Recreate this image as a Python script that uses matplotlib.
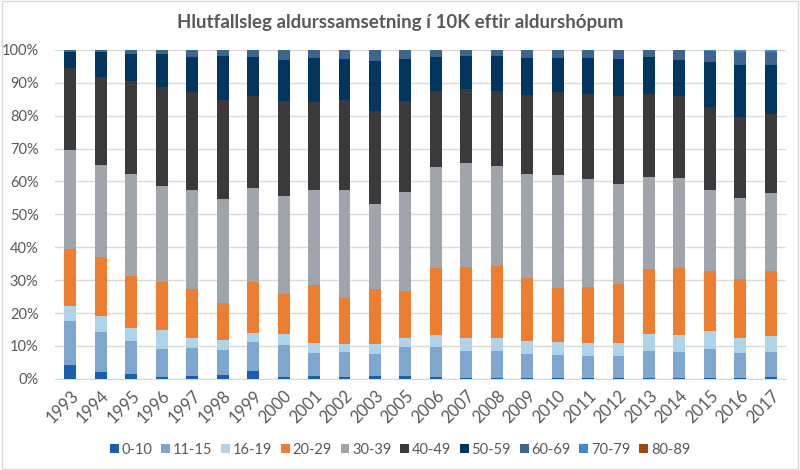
import numpy as np
import matplotlib
matplotlib.use("Agg")
import matplotlib.pyplot as plt
from matplotlib.patches import Rectangle
from matplotlib.ticker import PercentFormatter

plt.rcParams['font.family'] = ['Lato', 'DejaVu Sans']

years = ['1993', '1994', '1995', '1996', '1997', '1998', '1999', '2000', '2001', '2002',
         '2003', '2005', '2006', '2007', '2008', '2009', '2010', '2011', '2012', '2013',
         '2014', '2015', '2016', '2017']
groups = ['0-10', '11-15', '16-19', '20-29', '30-39', '40-49', '50-59', '60-69', '70-79', '80-89']
colors = ['#1A5FAB', '#7FA6CF', '#AFD3E8', '#ED7D31', '#9FA5AA', '#3A3A3C',
          '#03365F', '#3C6690', '#3B8BC6', '#9E480E']

# percent shares per age group
g0_10 = [4.1, 2.0, 1.6, 0.7, 1.0, 1.3, 2.3, 0.7, 1.0, 0.7, 1.0, 0.8, 0.6, 0.4, 0.3, 0.2,
         0.2, 0.3, 0.4, 0.4, 0.2, 0.3, 0.3, 0.7]
g11_15 = [13.4, 12.1, 9.8, 8.4, 8.4, 7.4, 8.9, 9.6, 6.8, 7.4, 6.5, 8.9, 9.0, 8.0, 8.3, 7.4,
          6.9, 6.6, 6.6, 8.0, 8.0, 8.8, 7.7, 7.5]
g16_19 = [4.7, 4.9, 4.0, 5.7, 3.1, 3.0, 2.8, 3.3, 3.2, 2.4, 3.1, 2.7, 3.6, 4.0, 3.9, 3.9,
          4.0, 4.0, 3.8, 5.2, 5.1, 5.3, 4.3, 4.7]
g20_29 = [17.4, 17.9, 15.8, 14.6, 14.8, 11.2, 15.3, 12.3, 17.5, 14.1, 16.6, 14.4, 20.5, 21.5,
          21.9, 19.2, 16.5, 17.0, 17.9, 19.8, 20.4, 18.5, 18.0, 19.8]
g30_39 = [30.1, 28.0, 31.0, 29.2, 30.0, 31.9, 28.6, 29.8, 29.0, 32.7, 25.8, 30.0, 30.7, 31.7,
          30.4, 31.5, 34.2, 32.8, 30.4, 27.8, 27.3, 24.4, 24.7, 23.8]
g40_49 = [24.8, 26.9, 28.2, 30.1, 29.9, 29.9, 28.2, 28.6, 26.7, 27.3, 28.4, 27.6, 23.1, 22.6,
          22.7, 24.1, 25.3, 26.0, 26.8, 25.3, 24.9, 25.2, 24.6, 23.9]
g50_59 = [4.9, 7.4, 8.4, 9.9, 10.7, 13.5, 11.8, 12.5, 13.2, 12.7, 15.3, 12.8, 10.3, 10.0,
          10.6, 11.1, 10.3, 10.9, 11.3, 11.3, 11.0, 13.9, 15.7, 14.9]
g60_69 = [0.6, 0.8, 1.2, 1.4, 2.1, 1.8, 2.1, 3.2, 2.6, 2.7, 3.3, 2.8, 2.0, 1.8, 1.9, 2.6,
          2.6, 2.4, 2.8, 2.2, 3.1, 3.2, 4.1, 4.1]
g70_79 = [0, 0, 0, 0, 0, 0, 0, 0, 0, 0, 0, 0, 0.1, 0, 0, 0, 0, 0, 0, 0, 0, 0.4, 0.6, 0.6]
g80_89 = [0, 0, 0, 0, 0, 0, 0, 0, 0, 0, 0, 0, 0.1, 0, 0, 0, 0, 0, 0, 0, 0, 0, 0, 0]

series = [g0_10, g11_15, g16_19, g20_29, g30_39, g40_49, g50_59, g60_69, g70_79, g80_89]
data = np.array(series, dtype=float)
data = data / data.sum(axis=0) * 100

fig = plt.figure(figsize=(8, 4.7), dpi=100)
ax = fig.add_axes([0.069, 0.194, 0.9135, 0.70])

x = np.arange(len(years))
bottom = np.zeros(len(years))
for name, vals, c in zip(groups, data, colors):
    ax.bar(x, vals, 0.39, bottom=bottom, color=c, label=name, zorder=3)
    bottom += vals

ax.set_xlim(-0.5, len(years) - 0.5)
ax.set_ylim(0, 100)
ax.set_yticks(np.arange(0, 101, 10))
ax.yaxis.set_major_formatter(PercentFormatter(decimals=0))
ax.set_xticks(x)
ax.set_xticklabels(years, rotation=45, ha='right', rotation_mode='anchor')
ax.tick_params(axis='x', labelsize=12, colors='#595959', length=0, pad=6)
ax.tick_params(axis='y', labelsize=10.5, colors='#595959', length=0, pad=12)
ax.grid(axis='y', color='#D9D9D9', linewidth=1, zorder=0)
for s in ['top', 'right', 'left']:
    ax.spines[s].set_visible(False)
ax.spines['bottom'].set_color('#D9D9D9')

fig.text(0.5, 0.953, 'Hlutfallsleg aldurssamsetning í 10K eftir aldurshópum',
         ha='center', va='center', fontsize=13.5, fontweight='bold', color='#595959')

ax.legend(loc='center', bbox_to_anchor=(0.5, 0.043), bbox_transform=fig.transFigure,
          ncol=10, frameon=False, fontsize=10.5, handlelength=0.6, handleheight=0.6,
          handletextpad=0.2, columnspacing=0.6, labelcolor='#595959')

fig.patches.append(Rectangle((0.002, 0.003), 0.996, 0.994, transform=fig.transFigure,
                             fill=False, edgecolor='#D9D9D9', linewidth=1))

fig.savefig('out.png', dpi=100)
